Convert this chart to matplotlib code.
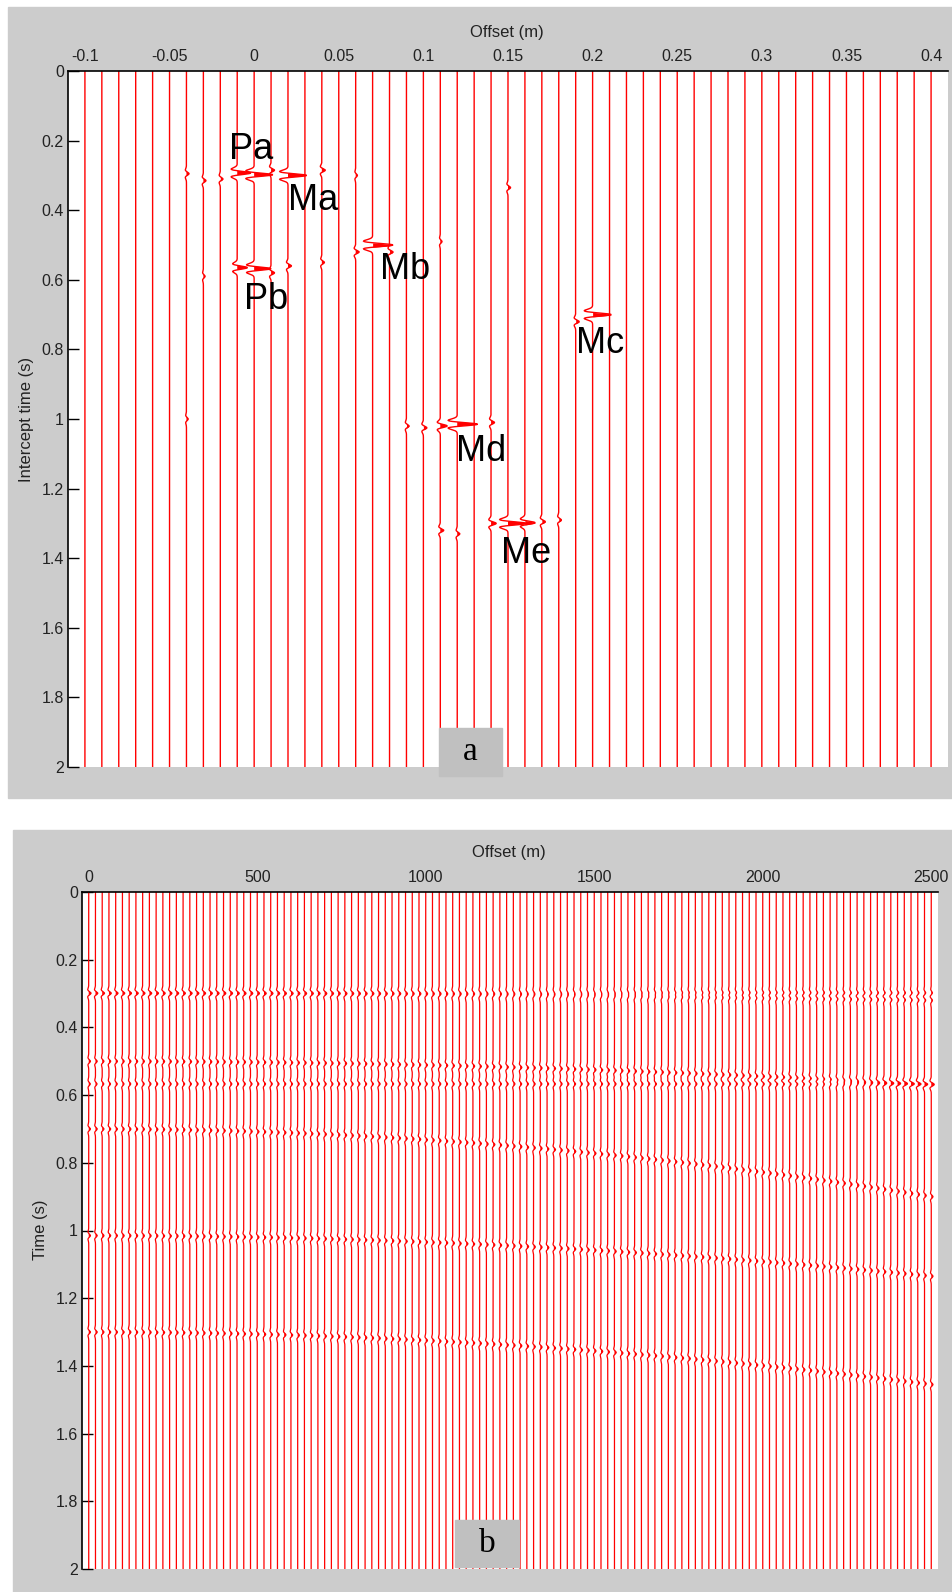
import numpy as np
import matplotlib
matplotlib.use('Agg')
import matplotlib.pyplot as plt
from matplotlib.patches import Rectangle

W, H = 952, 1592
RED = '#ff0000'
TICK_FONT = ['Liberation Sans Narrow', 'Liberation Sans', 'DejaVu Sans']
LAB_FONT = ['Liberation Sans', 'DejaVu Sans']

# ---- panel a: Radon domain, one trace every 0.01
a_traces = np.round(np.arange(-0.10, 0.4001, 0.01), 2)
a_xticks = [-0.1, -0.05, 0, 0.05, 0.1, 0.15, 0.2, 0.25, 0.3, 0.35, 0.4]
a_xticklabels = ['-0.1', '-0.05', '0', '0.05', '0.1', '0.15', '0.2', '0.25', '0.3', '0.35', '0.4']
# event wavelets: trace, intercept time (s), amplitude
a_ev_trace = [-0.01, 0.00, 0.02, 0.07, -0.01, 0.00, 0.20, 0.12, 0.15, 0.16,
              -0.04, -0.03, -0.02, 0.01, 0.04, 0.06, 0.15,
              -0.03, 0.01, 0.02, 0.04, 0.06, 0.08, 0.11, 0.19,
              -0.04, 0.09, 0.10, 0.11, 0.14,
              0.11, 0.12, 0.14, 0.17, 0.18]
a_ev_tau = [0.293, 0.298, 0.300, 0.500, 0.565, 0.568, 0.700, 1.015, 1.300, 1.298,
            0.295, 0.315, 0.310, 0.285, 0.285, 0.300, 0.335,
            0.590, 0.580, 0.560, 0.550, 0.520, 0.520, 0.490, 0.720,
            1.000, 1.020, 1.025, 1.020, 1.010,
            1.320, 1.330, 1.300, 1.295, 1.290]
a_ev_amp = [0.008, 0.011, 0.011, 0.012, 0.006, 0.010, 0.011, 0.012, 0.011, 0.006,
            0.0015, 0.0015, 0.0015, 0.002, 0.002, 0.001, 0.0015,
            0.001, 0.002, 0.002, 0.0015, 0.002, 0.002, 0.001, 0.002,
            0.001, 0.0015, 0.002, 0.004, 0.002,
            0.002, 0.0015, 0.003, 0.002, 0.0015]
a_labels = ['Pa', 'Ma', 'Mb', 'Pb', 'Mc', 'Md', 'Me']
a_lab_x = [-0.0147, 0.020, 0.0743, -0.0059, 0.190, 0.119, 0.1457]
a_lab_y = [0.253, 0.399, 0.598, 0.684, 0.810, 1.121, 1.414]

# ---- panel b: offset gather, one trace every 20 m
b_traces = np.arange(0, 2501, 20)
b_xticks = [0, 500, 1000, 1500, 2000, 2500]
# events: zero-offset time, moveout at 2500 m, amplitude (m)
b_ev_name = ['Pa', 'Ma', 'Mb', 'Pb', 'Mc', 'Md', 'Me']
b_ev_tau = [0.298, 0.300, 0.500, 0.567, 0.700, 1.015, 1.300]
b_ev_q = [0.0, 0.02, 0.07, 0.0, 0.20, 0.12, 0.155]
b_ev_amp = [3.5, 3.5, 5, 4.5, 5, 5, 5]

y_ticks = [0, 0.2, 0.4, 0.6, 0.8, 1.0, 1.2, 1.4, 1.6, 1.8, 2.0]
y_ticklabels = ['0', '0.2', '0.4', '0.6', '0.8', '1', '1.2', '1.4', '1.6', '1.8', '2']

t = np.linspace(0, 2, 2001)


def ricker(tt, f=35.0):
    a = (np.pi * f * tt) ** 2
    return (1 - 2 * a) * np.exp(-a)


def draw_traces(ax, xs, sigs, lw):
    for x0, s in zip(xs, sigs):
        ax.plot(x0 + s, t, color=RED, lw=lw, solid_joinstyle='miter')
        ax.fill_betweenx(t, x0, x0 + s, where=s > 0, color=RED, lw=0)


def px_axes(l, tp, r, b):
    return [l / W, 1 - b / H, (r - l) / W, (b - tp) / H]


def style_axes(ax, xlim, xticks, xticklabels):
    ax.set_xlim(*xlim)
    ax.set_ylim(2, 0)
    ax.xaxis.tick_top()
    for s in ['bottom', 'right']:
        ax.spines[s].set_visible(False)
    for s in ['top', 'left']:
        ax.spines[s].set_linewidth(1.2)
    ax.set_xticks(xticks)
    ax.set_xticklabels(xticklabels, fontfamily=TICK_FONT, fontsize=11.5, color='#222222')
    ax.set_yticks(y_ticks)
    ax.set_yticklabels(y_ticklabels, fontfamily=TICK_FONT, fontsize=11.5, color='#222222')
    ax.tick_params(axis='y', direction='in', length=8, width=1, pad=3)
    ax.tick_params(axis='x', direction='in', length=0, pad=5, top=True, bottom=False)


fig = plt.figure(figsize=(W / 100, H / 100), dpi=100)
fig.patch.set_facecolor('white')

# gray panel backgrounds
fig.patches.append(Rectangle((8 / W, 1 - 798 / H), (W - 8) / W, (798 - 7) / H,
                             transform=fig.transFigure, color='#cccccc', zorder=-5))
fig.patches.append(Rectangle((13 / W, 0), (W - 13) / W, (H - 830) / H,
                             transform=fig.transFigure, color='#cccccc', zorder=-5))

# panel a
axa = fig.add_axes(px_axes(68, 71, 948, 767))
sigs = []
for x0 in a_traces:
    s = np.zeros_like(t)
    for tr, tau, amp in zip(a_ev_trace, a_ev_tau, a_ev_amp):
        if abs(tr - x0) < 1e-6:
            s += amp * ricker(t - tau)
    sigs.append(s)
draw_traces(axa, a_traces, sigs, 1.0)
style_axes(axa, (-0.11, 0.41), a_xticks, a_xticklabels)
for lab, lx, ly in zip(a_labels, a_lab_x, a_lab_y):
    axa.text(lx, ly, lab, fontsize=26, fontfamily=LAB_FONT, ha='left', va='baseline')

# panel b
axb = fig.add_axes(px_axes(82, 892, 938, 1569))
sigs = []
for x0 in b_traces:
    s = np.zeros_like(t)
    for tau, q, amp in zip(b_ev_tau, b_ev_q, b_ev_amp):
        s += amp * ricker(t - (tau + q * (x0 / 2500.0) ** 2))
    sigs.append(s)
draw_traces(axb, b_traces, sigs, 0.9)
style_axes(axb, (-20, 2520), b_xticks, [str(v) for v in b_xticks])

# axis titles
fig.text(507 / W, 1 - 32 / H, 'Offset (m)', fontsize=12, fontfamily=LAB_FONT,
         ha='center', va='center', color='#222222')
fig.text(27 / W, 1 - 419 / H, 'Intercept time (s)', fontsize=12, fontfamily=LAB_FONT,
         ha='center', va='center', rotation=90, color='#222222')
fig.text(509 / W, 1 - 853 / H, 'Offset (m)', fontsize=12, fontfamily=LAB_FONT,
         ha='center', va='center', color='#222222')
fig.text(41 / W, 1 - 1230 / H, 'Time (s)', fontsize=12, fontfamily=LAB_FONT,
         ha='center', va='center', rotation=90, color='#222222')

# panel tags
for tag, (l, tp, r, b) in [('a', (439, 728, 502, 776)), ('b', (455, 1520, 519, 1567))]:
    fig.patches.append(Rectangle((l / W, 1 - b / H), (r - l) / W, (b - tp) / H,
                                 transform=fig.transFigure, color='#c0c0c0', zorder=5))
    fig.text((l + r) / 2 / W, 1 - (tp + b) / 2 / H, tag, fontsize=24,
             fontfamily=['Liberation Serif', 'DejaVu Serif'], ha='center', va='center', zorder=6)

fig.savefig('out.png', dpi=100)
